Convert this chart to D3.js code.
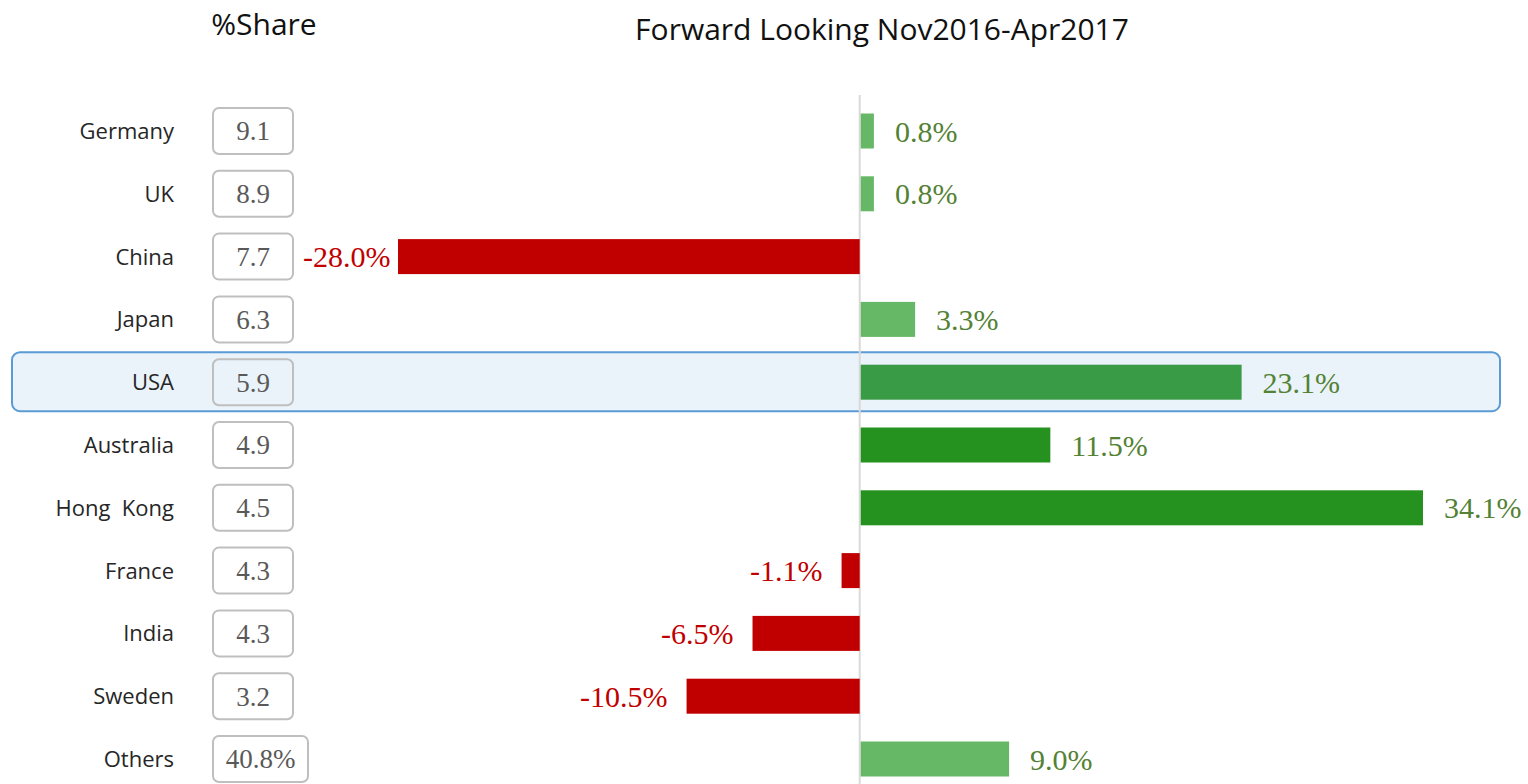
<!DOCTYPE html>
<html>
<head>
<meta charset="utf-8">
<script src="https://cdn.jsdelivr.net/npm/d3@7"></script>
<style>
  body { margin: 0; background: #fff; }
  svg { display: block; }
</style>
</head>
<body>
<svg id="chart"></svg>
<script>
var width = 1528, height = 784;

// data
var countries = ["Germany", "UK", "China", "Japan", "USA", "Australia", "Hong  Kong", "France", "India", "Sweden", "Others"];
var shares = ["9.1", "8.9", "7.7", "6.3", "5.9", "4.9", "4.5", "4.3", "4.3", "3.2", "40.8%"];
var forward = [0.8, 0.8, -28.0, 3.3, 23.1, 11.5, 34.1, -1.1, -6.5, -10.5, 9.0];
var highlighted = "USA";

var svg = d3.select("#chart").attr("width", width).attr("height", height);

var x = d3.scaleLinear().domain([-28, 34.1]).range([398, 1422]);
var y = d3.scalePoint().domain(countries).range([131, 759]);
var barH = 35;
var fmt = function(v) { return d3.format(".1f")(v).replace("\u2212", "-") + "%"; };

function barColor(v, name) {
  if (v < 0) return "#c00000";
  if (name === highlighted) return "#3a9b47";
  if (v > 10) return "#25921f";
  return "#66b866";
}

// titles
svg.append("text")
  .attr("x", 264).attr("y", 35)
  .attr("text-anchor", "middle")
  .style("font-family", "Open Sans")
  .style("font-size", "30px")
  .attr("fill", "#111")
  .text("%Share");

svg.append("text")
  .attr("x", 882).attr("y", 40)
  .attr("text-anchor", "middle")
  .style("font-family", "Open Sans")
  .style("font-size", "30px")
  .attr("fill", "#111")
  .text("Forward Looking Nov2016-Apr2017");

// highlight band
svg.append("rect")
  .attr("x", 12).attr("y", y(highlighted) - 30)
  .attr("width", 1488).attr("height", 59)
  .attr("rx", 8)
  .attr("fill", "#eaf2fa")
  .attr("stroke", "#5b9bd5")
  .attr("stroke-width", 2);

// zero line
svg.append("line")
  .attr("x1", x(0)).attr("x2", x(0))
  .attr("y1", 95).attr("y2", height)
  .attr("stroke", "#d9d9d9")
  .attr("stroke-width", 2);

var rows = svg.selectAll("g.row")
  .data(countries)
  .join("g")
  .attr("class", "row");

rows.append("text")
  .attr("x", 174)
  .attr("y", function(d) { return y(d); })
  .attr("dy", "0.36em")
  .attr("text-anchor", "end")
  .style("font-family", "Open Sans")
  .style("font-size", "22px")
  .style("white-space", "pre")
  .attr("fill", "#262626")
  .text(function(d) { return d; });

rows.append("rect")
  .attr("x", 213)
  .attr("y", function(d) { return y(d) - 23; })
  .attr("width", function(d, i) { return shares[i].indexOf("%") >= 0 ? 95 : 80; })
  .attr("height", 46)
  .attr("rx", 6)
  .attr("fill", "none")
  .attr("stroke", "#bfbfbf")
  .attr("stroke-width", 2);

rows.append("text")
  .attr("x", function(d, i) { return shares[i].indexOf("%") >= 0 ? 260.5 : 253; })
  .attr("y", function(d) { return y(d); })
  .attr("dy", "0.35em")
  .attr("text-anchor", "middle")
  .style("font-family", "Liberation Serif")
  .style("font-size", "27px")
  .attr("fill", "#595959")
  .text(function(d, i) { return shares[i]; });

// bars
rows.append("rect")
  .attr("x", function(d, i) { return Math.min(x(0) + 1, x(forward[i])); })
  .attr("y", function(d) { return y(d) - barH / 2; })
  .attr("width", function(d, i) { return Math.abs(x(forward[i]) - x(0)); })
  .attr("height", barH)
  .attr("fill", function(d, i) { return barColor(forward[i], d); });

// value labels; negative labels are pushed right if they would hit the share boxes
rows.append("text")
  .attr("y", function(d) { return y(d); })
  .attr("dy", "0.35em")
  .style("font-family", "Liberation Serif")
  .style("font-size", "30px")
  .attr("fill", function(d, i) { return forward[i] < 0 ? "#c00000" : "#548235"; })
  .text(function(d, i) { return fmt(forward[i]); })
  .attr("x", function(d, i) {
    var v = forward[i];
    if (v >= 0) return x(v) + 22;
    var w = this.getComputedTextLength();
    return Math.max(x(v) - 19 - w, 303);
  });
</script>
</body>
</html>
